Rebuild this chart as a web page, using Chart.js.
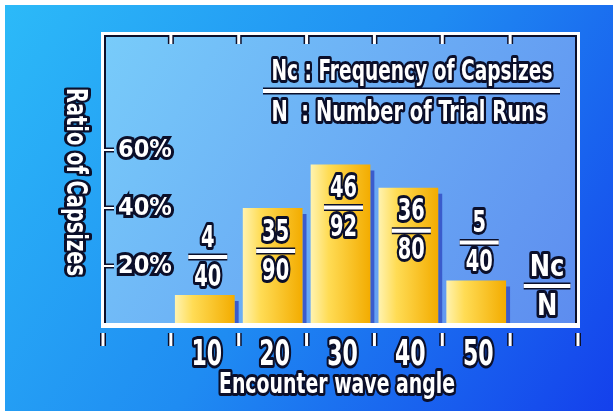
<!DOCTYPE html>
<html>
<head>
<meta charset="utf-8">
<script src="https://cdn.jsdelivr.net/npm/chart.js@4.4.1/dist/chart.umd.min.js"></script>
<style>
  html, body { margin: 0; padding: 0; background: #fff; }
  #wrap { width: 613px; height: 411px; }
</style>
</head>
<body>
<div id="wrap"><canvas id="chart"></canvas></div>
<script>
// values (bar heights in %)
const angles = ['', '10', '20', '30', '40', '50', '']
const ratios = [null, 10, 40, 55, 47, 15, null]
const capsizes = ['', '4', '35', '46', '36', '5', 'Nc']
const trials = ['', '40', '90', '92', '80', '40', 'N']
const yTicks = [20, 40, 60]
const legendTop = 'Nc : Frequency of Capsizes'
const legendBottom = 'N  : Number of Trial Runs'
const xTitle = 'Encounter wave angle'
const yTitle = 'Ratio of Capsizes'

const FONT = "'DejaVu Sans Condensed', 'Liberation Sans', sans-serif"
const INK = '#0b0f2a'

// white text with a thick dark outline, squeezed horizontally by sx
// (or squeezed to fit a given width)
function outlined(ctx, text, x, y, size, sx, fitWidth){
    ctx.save()
    ctx.font = 'bold ' + size + 'px ' + FONT
    if(fitWidth){
        sx = fitWidth / ctx.measureText(text).width
    }
    ctx.translate(x, y)
    ctx.scale(sx || 1, 1)
    ctx.textAlign = 'center'
    ctx.textBaseline = 'middle'
    ctx.lineJoin = 'round'
    ctx.lineWidth = 6
    ctx.strokeStyle = INK
    ctx.strokeText(text, 0, 0)
    ctx.fillStyle = '#fff'
    ctx.fillText(text, 0, 0)
    ctx.restore()
}

function whiteLine(ctx, x1, y1, x2, y2, w){
    ctx.save()
    ctx.lineCap = 'butt'
    ctx.strokeStyle = INK
    ctx.lineWidth = w + 3
    ctx.beginPath(); ctx.moveTo(x1, y1); ctx.lineTo(x2, y2); ctx.stroke()
    ctx.strokeStyle = '#fff'
    ctx.lineWidth = w
    ctx.beginPath(); ctx.moveTo(x1, y1); ctx.lineTo(x2, y2); ctx.stroke()
    ctx.restore()
}

const backdrop = {
    id: 'backdrop',
    beforeDraw(chart){
        const ctx = chart.ctx
        const a = chart.chartArea
        ctx.save()
        ctx.fillStyle = '#fff'
        ctx.fillRect(0, 0, chart.width, chart.height)
        let g = ctx.createLinearGradient(5, 5, chart.width, chart.height)
        g.addColorStop(0, '#2cbaf8')
        g.addColorStop(0.5, '#1f8cf2')
        g.addColorStop(1, '#1440ec')
        ctx.fillStyle = g
        ctx.fillRect(5, 5, chart.width - 5, chart.height - 5)
        g = ctx.createLinearGradient(a.left, a.top, a.right, a.bottom)
        g.addColorStop(0, '#78ccfa')
        g.addColorStop(1, '#5d8cef')
        ctx.fillStyle = g
        ctx.fillRect(a.left, a.top, a.right - a.left, a.bottom - a.top)
        ctx.restore()
    },
    beforeDatasetsDraw(chart){
        // dark shadow strip on the right of each bar
        const ctx = chart.ctx
        const meta = chart.getDatasetMeta(0)
        ctx.save()
        ctx.fillStyle = '#3a5ccc'
        meta.data.forEach(function(el, i){
            if(ratios[i] === null) return
            ctx.fillRect(el.x + el.width/2, el.y + 6, 4, el.base - el.y - 6)
        })
        ctx.restore()
    },
    afterDatasetsDraw(chart){
        const ctx = chart.ctx
        const a = chart.chartArea
        const x = chart.scales.x
        const y = chart.scales.y
        const slot = (a.right - a.left) / angles.length

        // frame
        ctx.save()
        ctx.strokeStyle = INK
        ctx.lineWidth = 2
        ctx.strokeRect(a.left + 2, a.top + 2, a.right - a.left - 4, a.bottom - a.top)
        ctx.strokeStyle = '#fff'
        ctx.lineWidth = 3
        ctx.strokeRect(a.left - 0.5, a.top - 0.5, a.right - a.left + 1, a.bottom - a.top + 1)
        ctx.fillStyle = '#fff'
        ctx.fillRect(a.left - 2, a.bottom - 1, a.right - a.left + 4, 5)
        ctx.restore()

        // tick marks: top (inside), bottom (outside), y (inside)
        for(let i = 0; i <= angles.length; i++){
            const bx = x.getPixelForValue(i) - slot/2
            if(i > 0 && i < angles.length){
                whiteLine(ctx, bx, a.top + 1, bx, a.top + 10, 3)
            }
            whiteLine(ctx, bx, a.bottom + 9, bx, a.bottom + 22, 3)
        }
        yTicks.forEach(function(v){
            const py = y.getPixelForValue(v)
            whiteLine(ctx, a.left + 1, py, a.left + 11, py, 2)
        })

        // category labels under the axis
        x.ticks.forEach(function(t, i){
            if(angles[i]) outlined(ctx, angles[i], x.getPixelForTick(i) + 2, a.bottom + 32, 35, 0.7)
        })

        // Nc / N fractions
        for(let i = 0; i < angles.length; i++){
            if(!capsizes[i]) continue
            const cx = x.getPixelForValue(i) + 3
            const top = y.getPixelForValue(ratios[i] || 0)
            const lineY = (ratios[i] || 0) >= 30 ? top + 43 : top - 38
            const size = 30
            const sx = capsizes[i] == 'Nc' ? 0.9 : 0.72
            ctx.font = 'bold ' + size + 'px ' + FONT
            const tw = Math.max(ctx.measureText(capsizes[i]).width, ctx.measureText(trials[i]).width) * sx
            const w = Math.max(35, tw + 12)
            whiteLine(ctx, cx - w/2, lineY, cx + w/2, lineY, 4)
            outlined(ctx, capsizes[i], cx, lineY - 18, size, sx)
            outlined(ctx, trials[i], cx, lineY + 21, size, sx)
        }

        // legend block
        whiteLine(ctx, 263, 91, 560, 91, 4)
        outlined(ctx, legendTop, 412, 72, 29, 0, 281)
        outlined(ctx, legendBottom, 409, 113, 29, 0, 275)

        // axis titles
        outlined(ctx, xTitle, 337, 386, 28, 0, 236)
        ctx.save()
        ctx.translate(75, 182)
        ctx.rotate(Math.PI/2)
        outlined(ctx, yTitle, 0, 0, 29, 0, 188)
        ctx.restore()
    }
}

const ctx = document.getElementById('chart').getContext('2d')
const myChart = new Chart(ctx, {
    type: 'bar',
    data: {
        labels: angles,
        datasets: [{
            data: ratios,
            barPercentage: 0.88,
            categoryPercentage: 1,
            borderWidth: 0,
            backgroundColor: function(c){
                const chart = c.chart
                const xs = chart.scales.x
                if(!chart.chartArea || !xs || c.dataIndex === undefined) return '#f8c81c'
                const cx = xs.getPixelForValue(c.dataIndex)
                const half = (xs.width / angles.length) * 0.88 / 2
                const g = chart.ctx.createLinearGradient(cx - half, 0, cx + half, 0)
                g.addColorStop(0, '#fff3b0')
                g.addColorStop(0.3, '#ffdc55')
                g.addColorStop(1, '#f3ac00')
                return g
            }
        }]
    },
    options: {
        responsive: true,
        maintainAspectRatio: false,
        animation: false,
        layout: { padding: { left: 103, top: 34, right: 35, bottom: 0 } },
        plugins: { legend: { display: false }, tooltip: { enabled: false } },
        scales: {
            x: {
                border: { display: false },
                grid: { display: false },
                ticks: { display: false, autoSkip: false },
                afterFit: function(s){ s.height = 87 }
            },
            y: {
                min: 0,
                max: 100,
                border: { display: false },
                grid: { display: false },
                ticks: {
                    stepSize: 20,
                    mirror: true,
                    padding: 15,
                    color: '#fff',
                    textStrokeColor: INK,
                    textStrokeWidth: 6,
                    font: { family: "'DejaVu Sans Condensed', sans-serif", size: 25, weight: 'bold' },
                    callback: function(v){ return yTicks.indexOf(v) >= 0 ? v + '%' : '' }
                },
                afterFit: function(s){ s.width = 0 }
            }
        }
    },
    plugins: [backdrop]
})
</script>
</body>
</html>
